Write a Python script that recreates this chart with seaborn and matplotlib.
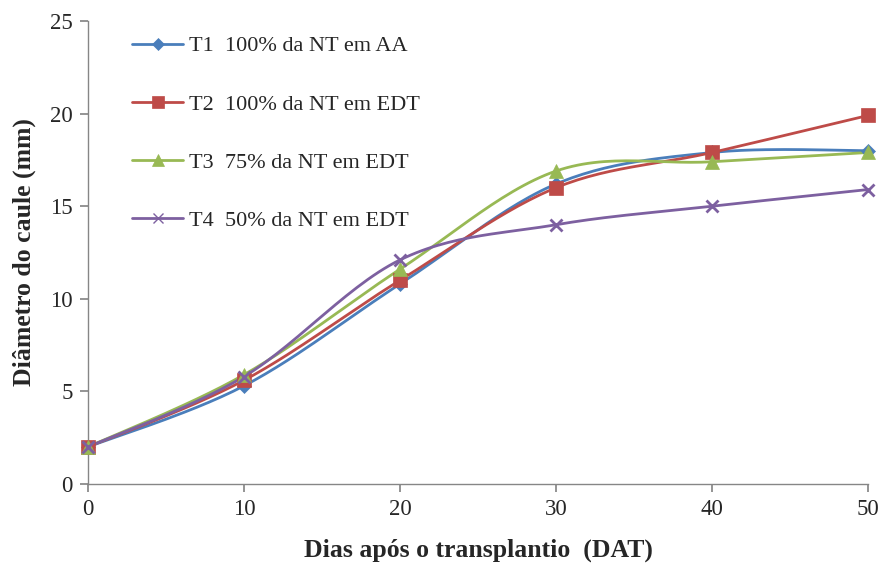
import numpy as np
import pandas as pd
import matplotlib
matplotlib.use("Agg")
import matplotlib.pyplot as plt
import seaborn as sns
from matplotlib.lines import Line2D

dias = [0, 10, 20, 30, 40, 50]
t1 = [2.0, 5.3, 10.8, 16.2, 17.9, 18.0]
t2 = [2.0, 5.6, 11.0, 16.0, 17.9, 19.9]
t3 = [2.0, 5.9, 11.6, 16.9, 17.4, 17.9]
t4 = [2.0, 5.8, 12.1, 14.0, 15.0, 15.9]
labels = ["T1  100% da NT em AA", "T2  100% da NT em EDT",
          "T3  75% da NT em EDT", "T4  50% da NT em EDT"]
series = [t1, t2, t3, t4]
colors = ["#4A7EBB", "#BE4B48", "#98B954", "#7D60A0"]
markers = ["D", "s", "^", "x"]
msizes = [7, 10, 10, 9]

sns.set_theme(style="white")
plt.rcParams["font.family"] = ["Liberation Serif", "DejaVu Serif"]


def smooth(x, y, n=30):
    x = np.asarray(x, float); y = np.asarray(y, float)
    px = np.concatenate([[x[0]], x, [x[-1]]])
    py = np.concatenate([[y[0]], y, [y[-1]]])
    xs, ys = [], []
    for i in range(1, len(px) - 2):
        p0 = np.array([px[i - 1], py[i - 1]]); p1 = np.array([px[i], py[i]])
        p2 = np.array([px[i + 1], py[i + 1]]); p3 = np.array([px[i + 2], py[i + 2]])
        c1 = p1 + (p2 - p0) / 6.0
        c2 = p2 - (p3 - p1) / 6.0
        t = np.linspace(0, 1, n)[:, None]
        b = (1 - t) ** 3 * p1 + 3 * (1 - t) ** 2 * t * c1 + 3 * (1 - t) * t ** 2 * c2 + t ** 3 * p2
        xs.extend(b[:, 0]); ys.extend(b[:, 1])
    return np.array(xs), np.array(ys)


fig = plt.figure(figsize=(8.84, 5.63), dpi=100)
ax = fig.add_axes([0.0995, 0.1403, 0.8825, 0.8224])

handles = []
for lab, ys, c, m, ms in zip(labels, series, colors, markers, msizes):
    sx, sy = smooth(dias, ys)
    sns.lineplot(x=sx, y=sy, ax=ax, color=c, linewidth=2.0, sort=False, estimator=None)
    ax.plot(dias, ys, linestyle="none", marker=m, color=c, markersize=ms,
            markeredgewidth=2 if m == "x" else 0.5, markeredgecolor=c, clip_on=False, zorder=5)
    handles.append(Line2D([0], [0], color=c, linewidth=2.0, marker=m, markersize=ms * 0.85,
                          markeredgewidth=1 if m == "x" else 0.5, markeredgecolor=c))

ax.set_xlim(0, 50)
ax.set_ylim(0, 25)
ax.set_xticks([0, 10, 20, 30, 40, 50])
ax.set_yticks([0, 5, 10, 15, 20, 25])
for s in ["top", "right"]:
    ax.spines[s].set_visible(False)
for s in ["left", "bottom"]:
    ax.spines[s].set_color("#868686")
    ax.spines[s].set_linewidth(1.0)
ax.tick_params(axis="y", direction="out", length=6, color="#868686", labelsize=16.5, left=True, pad=5)
ax.tick_params(axis="x", direction="out", length=6, color="#868686", labelsize=16.5, bottom=True, pad=5)

ax.set_xlabel("Dias após o transplantio  (DAT)", fontsize=18.5, fontweight="bold", labelpad=13)
ax.set_ylabel("Diâmetro do caule (mm)", fontsize=18.5, fontweight="bold", labelpad=10)

leg = ax.legend(handles, labels, loc="upper left", bbox_to_anchor=(0.031, 1.011), frameon=False,
                fontsize=16, labelspacing=1.69, handlelength=2.3, handletextpad=0.25)

fig.savefig("out.png", dpi=100)
